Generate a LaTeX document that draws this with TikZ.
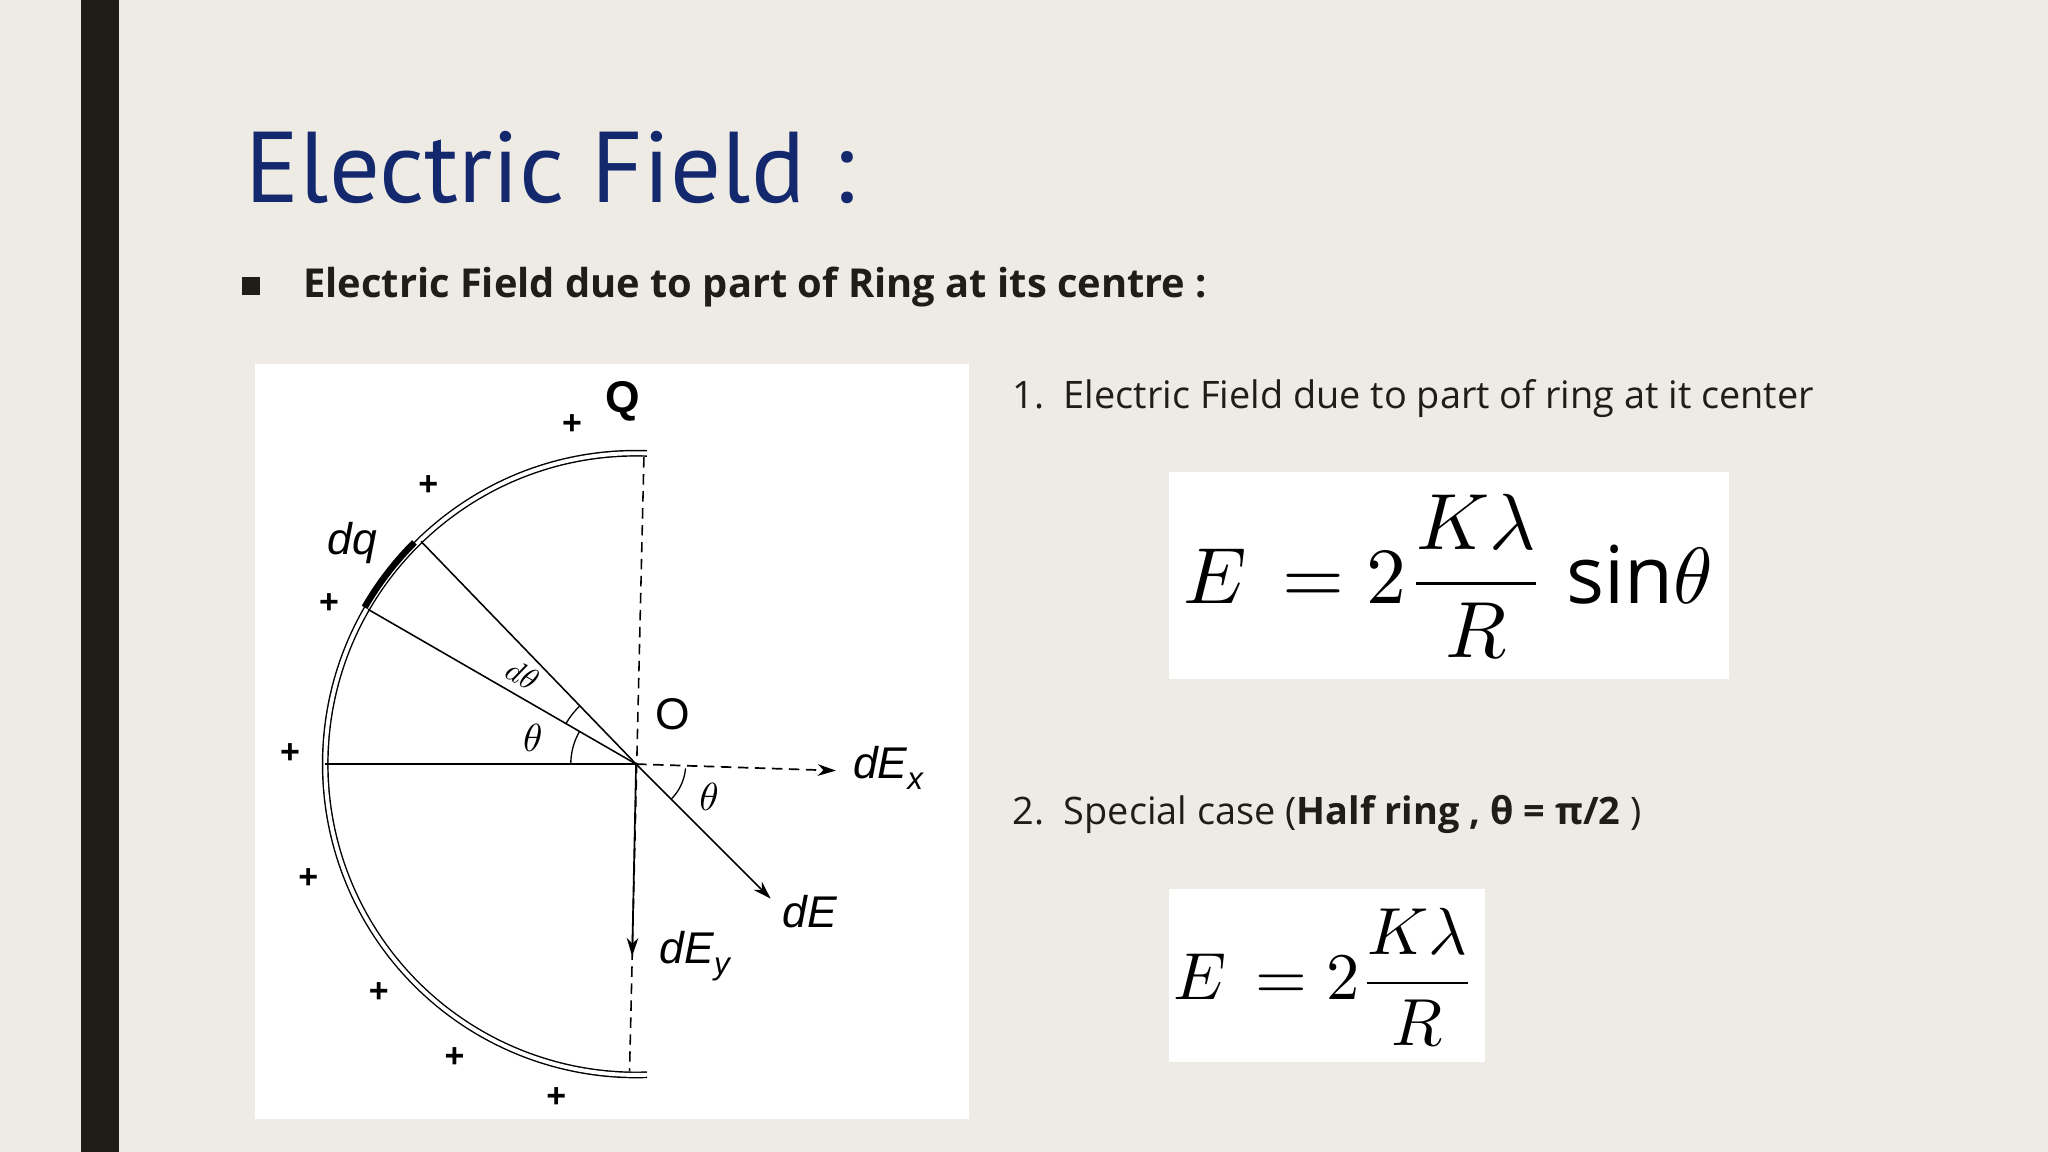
\documentclass[tikz,border=0pt]{standalone}
\usepackage{fontspec}
\usepackage{amsmath}
\usepackage{graphicx}
\setmainfont{Open Sans}
\newfontfamily\ptsans{PT Sans}
\newfontfamily\arialf{Liberation Sans}
\usetikzlibrary{arrows.meta}
\definecolor{bg}{HTML}{EDEBE4}
\definecolor{bar}{HTML}{1F1D15}
\definecolor{navy}{HTML}{14286E}
\tikzset{plus/.style={font=\arialf\fontsize{26}{26}\selectfont\bfseries,inner sep=0pt},
lab/.style={font=\arialf\itshape\fontsize{34}{34}\selectfont,inner sep=0pt},
arr/.style={-{Stealth[length=14pt,width=9pt]},line width=1.3pt}}
\begin{document}
\begin{tikzpicture}[x=1pt,y=-1pt]
\fill[bg] (0,0) rectangle (1568,882);
\useasboundingbox (0,0) rectangle (1568,882);
\fill[bar] (62,0) rectangle (91,882);
\node[anchor=base west,text=navy,font=\ptsans\fontsize{77}{77}\selectfont,inner sep=0pt] (title) at (188,155) {Electric Field :};
\fill[bar] (185,212) rectangle (199,226);
\node[anchor=base west,font=\bfseries\fontsize{30.5}{30}\selectfont,inner sep=0pt,text=bar] (sub) at (232,228) {Electric Field due to part of Ring at its centre :};
\fill[white] (195,279) rectangle (742,857);
% ring
\coordinate (O) at (487,585);
\draw[line width=1.1pt,double=white,double distance=3pt] (O) ++(88:238pt) arc[start angle=88,end angle=272,radius=238pt];
\draw[line width=5pt] (O) ++(150:240pt) arc[start angle=150,end angle=135,radius=240pt];
\coordinate (T) at (493,350);
\coordinate (B) at (482,820);
\draw[dashed,line width=1.2pt,dash pattern=on 8pt off 5pt] (T) -- (B);
\draw[line width=1.2pt] (O) -- ++(180:238pt) coordinate (L);
\draw[line width=1.2pt] (O) -- ++(150:237pt) coordinate (P1);
\draw[line width=1.2pt] (O) -- ++(134:237pt) coordinate (P2);
\draw[line width=1pt] (O) ++(180:50pt) arc[start angle=180,end angle=150,radius=50pt];
\draw[line width=1pt] (O) ++(150:62pt) arc[start angle=150,end angle=134,radius=62pt];
\draw[line width=1pt] (O) ++(-5:38pt) arc[start angle=-5,end angle=-45,radius=38pt];
\coordinate (Ex) at (640,590);
\coordinate (Ed) at (590,688);
\coordinate (Ey) at (484,732);
\draw[arr,dashed,dash pattern=on 8pt off 5pt] (O) -- (Ex);
\draw[arr] (O) -- (Ed);
\draw[arr] (O) -- (Ey);
\node[lab] (lEx) at (680,588) {dE\raisebox{-8pt}{\fontsize{24}{24}\selectfont x}};
\node[lab] (lE) at (620,698) {dE};
\node[lab] (lEy) at (532,732) {dE\raisebox{-8pt}{\fontsize{24}{24}\selectfont y}};
\node[lab,font=\arialf\fontsize{34}{34}\selectfont] (lO) at (515,547) {O};
\node[inner sep=0pt] (lth) at (408,565) {\scalebox{3}{$\theta$}};
\node[inner sep=0pt,rotate=-30] (ldth) at (400,517) {\scalebox{2.4}{$d\theta$}};
\node[inner sep=0pt] (lth2) at (543,610) {\scalebox{3}{$\theta$}};
\node[lab] (ldq) at (270,416) {dq};
\node[lab,font=\arialf\bfseries\fontsize{34}{34}\selectfont] (lQ) at (477,307) {Q};
\foreach \p/\n in {{(438,325)}/a,{(328,372)}/b,{(252,462)}/c,{(222,577)}/d,{(236,673)}/e,{(290,760)}/f,{(348,810)}/g,{(426,840)}/h}
 \node[plus] (pl\n) at \p {+};
% right side
\node[anchor=base west,font=\fontsize{29}{29}\selectfont,inner sep=0pt,text=bar] (i1) at (775,313) {1.\ \ Electric Field due to part of ring at it center};
\fill[white] (895,361) rectangle (1324,520);
\node[inner sep=0pt] (f1) at (1109,441) {\scalebox{6.1}{$E\,=2\dfrac{K\lambda}{R}\ \mathrm{sin}\theta$}};
\node[anchor=base west,font=\fontsize{29}{29}\selectfont,inner sep=0pt,text=bar] (i2) at (775,631) {2.\ \ Special case (\textbf{Half ring , θ = π/2} )};
\fill[white] (895,681) rectangle (1137,813);
\node[inner sep=0pt] (f2) at (1014,748) {\scalebox{5.1}{$E\,=2\dfrac{K\lambda}{R}$}};
\end{tikzpicture}
\end{document}
